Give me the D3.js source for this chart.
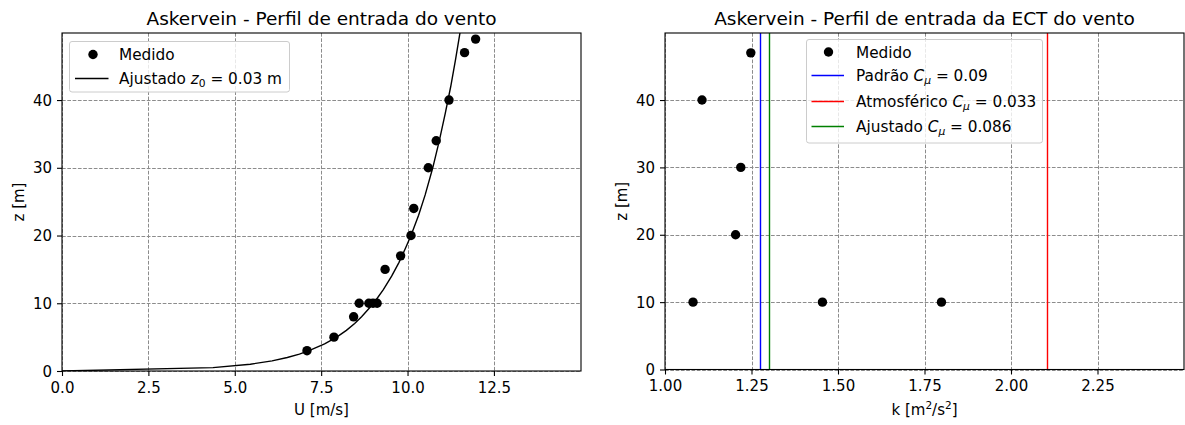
<!DOCTYPE html>
<html><head><meta charset="utf-8">
<script src="https://cdn.jsdelivr.net/npm/d3@7"></script>
<style>
body{margin:0;background:#fff}
svg{display:block}
text{font-family:"DejaVu Sans",sans-serif;fill:#000}
</style>
</head><body>
<svg id="c" width="1185" height="425"></svg>
<script>
// ---- Data ----
const uMedido = [7.09, 7.87, 8.44, 8.60, 8.88, 9.00, 9.12, 9.35, 9.80, 10.10, 10.18, 10.60, 10.83, 11.20, 11.65, 11.97];
const zMedido = [3, 5, 8, 10, 10, 10, 10, 15, 17, 20, 24, 30, 34, 40, 47, 49];

const zAjustado = [0, 0.5, 1, 1.5, 2, 2.5, 3, 4, 5, 6, 7, 8, 10, 12, 14, 16, 18, 20, 23, 26, 30, 34, 38, 42, 46, 50];
const uAjustado = [0, 4.37, 5.45, 6.08, 6.52, 6.87, 7.15, 7.60, 7.95, 8.23, 8.47, 8.67, 9.02, 9.30, 9.54, 9.75, 9.93, 10.10, 10.32, 10.51, 10.73, 10.92, 11.09, 11.25, 11.39, 11.52];

const kMedido = [1.081, 1.455, 1.799, 1.204, 1.219, 1.107, 1.248];
const zKMedido = [10, 10, 10, 20, 30, 40, 47];

const kPadrao = 1.275;
const kAtmosferico = 2.105;
const kAjustado = 1.302;

const uTicks = [0, 2.5, 5, 7.5, 10, 12.5];
const kTicks = [1.00, 1.25, 1.50, 1.75, 2.00, 2.25];
const zTicks = [0, 10, 20, 30, 40];

// ---- Layout ----
const svg = d3.select("#c");
const FS = 15;
const px = v => Math.round(v) + 0.5;

function panel(box, xDomain, xTicks, xFmt, yDomain) {
  const g = svg.append("g");
  const x = d3.scaleLinear().domain(xDomain).range([box.l, box.r]);
  const y = d3.scaleLinear().domain(yDomain).range([box.b, box.t]);
  const grid = g.append("g").attr("stroke", "#8c8c8c").attr("stroke-width", 1).attr("stroke-dasharray", "3.7,1.6");
  grid.selectAll("line.gx").data(xTicks).enter().append("line")
    .attr("x1", d => px(x(d))).attr("x2", d => px(x(d)))
    .attr("y1", box.t).attr("y2", box.b);
  grid.selectAll("line.gy").data(zTicks).enter().append("line")
    .attr("y1", d => px(y(d))).attr("y2", d => px(y(d)))
    .attr("x1", box.l).attr("x2", box.r);
  const ax = g.append("g").attr("transform", `translate(0,${box.b})`)
    .call(d3.axisBottom(x).tickValues(xTicks).tickFormat(xFmt).tickSize(5).tickPadding(6));
  const ay = g.append("g").attr("transform", `translate(${box.l},0)`)
    .call(d3.axisLeft(y).tickValues(zTicks).tickFormat(d3.format("d")).tickSize(5).tickPadding(5));
  [ax, ay].forEach(a => {
    a.select(".domain").remove();
    a.selectAll("text").attr("font-size", FS).attr("font-family", "DejaVu Sans").attr("fill", "#000");
    a.selectAll("line").attr("stroke", "#000").attr("stroke-width", 1.1);
  });
  ay.selectAll("text").attr("dy", "0.34em");
  return {g, x, y};
}

function frame(g, box) {
  g.append("rect").attr("x", box.l).attr("y", box.t).attr("width", box.r - box.l).attr("height", box.b - box.t)
    .attr("fill", "none").attr("stroke", "#000").attr("stroke-width", 1.1);
}

// ---- Left panel ----
const boxL = {l: 62, r: 581, t: 33, b: 371};
const L = panel(boxL, [0, 15.02], uTicks, d3.format(".1f"), [0, 49.9]);
svg.append("defs").append("clipPath").attr("id", "clipL").append("rect")
  .attr("x", boxL.l).attr("y", boxL.t).attr("width", boxL.r - boxL.l).attr("height", boxL.b - boxL.t);
const ajusteData = zAjustado.map((z, i) => [uAjustado[i], z]);
L.g.append("path").datum(ajusteData).attr("clip-path", "url(#clipL)")
  .attr("d", d3.line().x(d => L.x(d[0])).y(d => L.y(d[1])))
  .attr("fill", "none").attr("stroke", "#000").attr("stroke-width", 1.4);
L.g.selectAll("circle.m").data(uMedido).enter().append("circle")
  .attr("cx", d => L.x(d)).attr("cy", (d, i) => L.y(zMedido[i])).attr("r", 4.7).attr("fill", "#000");
frame(L.g, boxL);

svg.append("text").attr("x", (boxL.l + boxL.r) / 2).attr("y", 25).attr("text-anchor", "middle")
  .attr("font-size", 18.5).text("Askervein - Perfil de entrada do vento");
svg.append("text").attr("x", (boxL.l + boxL.r) / 2).attr("y", 415).attr("text-anchor", "middle")
  .attr("font-size", FS).text("U [m/s]");
svg.append("text").attr("transform", `translate(24,${(boxL.t + boxL.b) / 2}) rotate(-90)`).attr("text-anchor", "middle")
  .attr("font-size", FS).text("z [m]");

// legend left
const lgL = svg.append("g");
lgL.append("rect").attr("x", 69.5).attr("y", 41.5).attr("width", 220).attr("height", 50.5).attr("rx", 2.5)
  .attr("fill", "#fff").attr("fill-opacity", 0.8).attr("stroke", "#cccccc").attr("stroke-width", 1);
lgL.append("circle").attr("cx", 93).attr("cy", 54.5).attr("r", 4.7).attr("fill", "#000");
lgL.append("line").attr("x1", 75).attr("x2", 108.5).attr("y1", 78.5).attr("y2", 78.5).attr("stroke", "#000").attr("stroke-width", 1.4);
lgL.append("text").attr("x", 119).attr("y", 60).attr("font-size", 15.3).text("Medido");
const tL = lgL.append("text").attr("x", 119).attr("y", 84).attr("font-size", 15.3);
tL.append("tspan").text("Ajustado ");
tL.append("tspan").attr("font-style", "italic").text("z");
tL.append("tspan").attr("font-size", 15.3 * 0.7).attr("dy", 3).text("0");
tL.append("tspan").attr("dy", -3).text(" = 0.03 m");

// ---- Right panel ----
const boxR = {l: 665, r: 1184, t: 33, b: 369.5};
const R = panel(boxR, [1, 2.5], kTicks, d3.format(".2f"), [0, 49.95]);
const vlines = [[kPadrao, "#0000ff"], [kAtmosferico, "#ff0000"], [kAjustado, "#008000"]];
R.g.selectAll("line.v").data(vlines).enter().append("line")
  .attr("x1", d => px(R.x(d[0]))).attr("x2", d => px(R.x(d[0])))
  .attr("y1", boxR.t).attr("y2", boxR.b).attr("stroke", d => d[1]).attr("stroke-width", 1.4);
R.g.selectAll("circle.m").data(kMedido).enter().append("circle")
  .attr("cx", d => R.x(d)).attr("cy", (d, i) => R.y(zKMedido[i])).attr("r", 4.7).attr("fill", "#000");
frame(R.g, boxR);

svg.append("text").attr("x", (boxR.l + boxR.r) / 2).attr("y", 25).attr("text-anchor", "middle")
  .attr("font-size", 18.5).text("Askervein - Perfil de entrada da ECT do vento");
const xlR = svg.append("text").attr("x", (boxR.l + boxR.r) / 2).attr("y", 415).attr("text-anchor", "middle")
  .attr("font-size", FS);
xlR.append("tspan").text("k [m");
xlR.append("tspan").attr("font-size", FS * 0.7).attr("dy", -6).text("2");
xlR.append("tspan").attr("dy", 6).text("/s");
xlR.append("tspan").attr("font-size", FS * 0.7).attr("dy", -6).text("2");
xlR.append("tspan").attr("dy", 6).text("]");
svg.append("text").attr("transform", `translate(627,${(boxR.t + boxR.b) / 2}) rotate(-90)`).attr("text-anchor", "middle")
  .attr("font-size", FS).text("z [m]");

// legend right
const lgR = svg.append("g");
lgR.append("rect").attr("x", 806.5).attr("y", 39.5).attr("width", 236).attr("height", 103.5).attr("rx", 2.5)
  .attr("fill", "#fff").attr("fill-opacity", 0.8).attr("stroke", "#cccccc").attr("stroke-width", 1);
lgR.append("circle").attr("cx", 828.5).attr("cy", 52).attr("r", 4.7).attr("fill", "#000");
lgR.append("text").attr("x", 856).attr("y", 57.5).attr("font-size", 15.3).text("Medido");
const legItems = [["Padrão ", " = 0.09", "#0000ff", 75.5], ["Atmosférico ", " = 0.033", "#ff0000", 101.5], ["Ajustado ", " = 0.086", "#008000", 126.5]];
legItems.forEach(it => {
  lgR.append("line").attr("x1", 811.5).attr("x2", 844).attr("y1", it[3]).attr("y2", it[3]).attr("stroke", it[2]).attr("stroke-width", 1.4);
  const t = lgR.append("text").attr("x", 856).attr("y", it[3] + 5.5).attr("font-size", 15.3);
  t.append("tspan").text(it[0]);
  t.append("tspan").attr("font-style", "italic").text("C");
  t.append("tspan").attr("font-style", "italic").attr("font-size", 15.3 * 0.7).attr("dy", 3).text("μ");
  t.append("tspan").attr("dy", -3).text(it[1]);
});
</script>
</body></html>
